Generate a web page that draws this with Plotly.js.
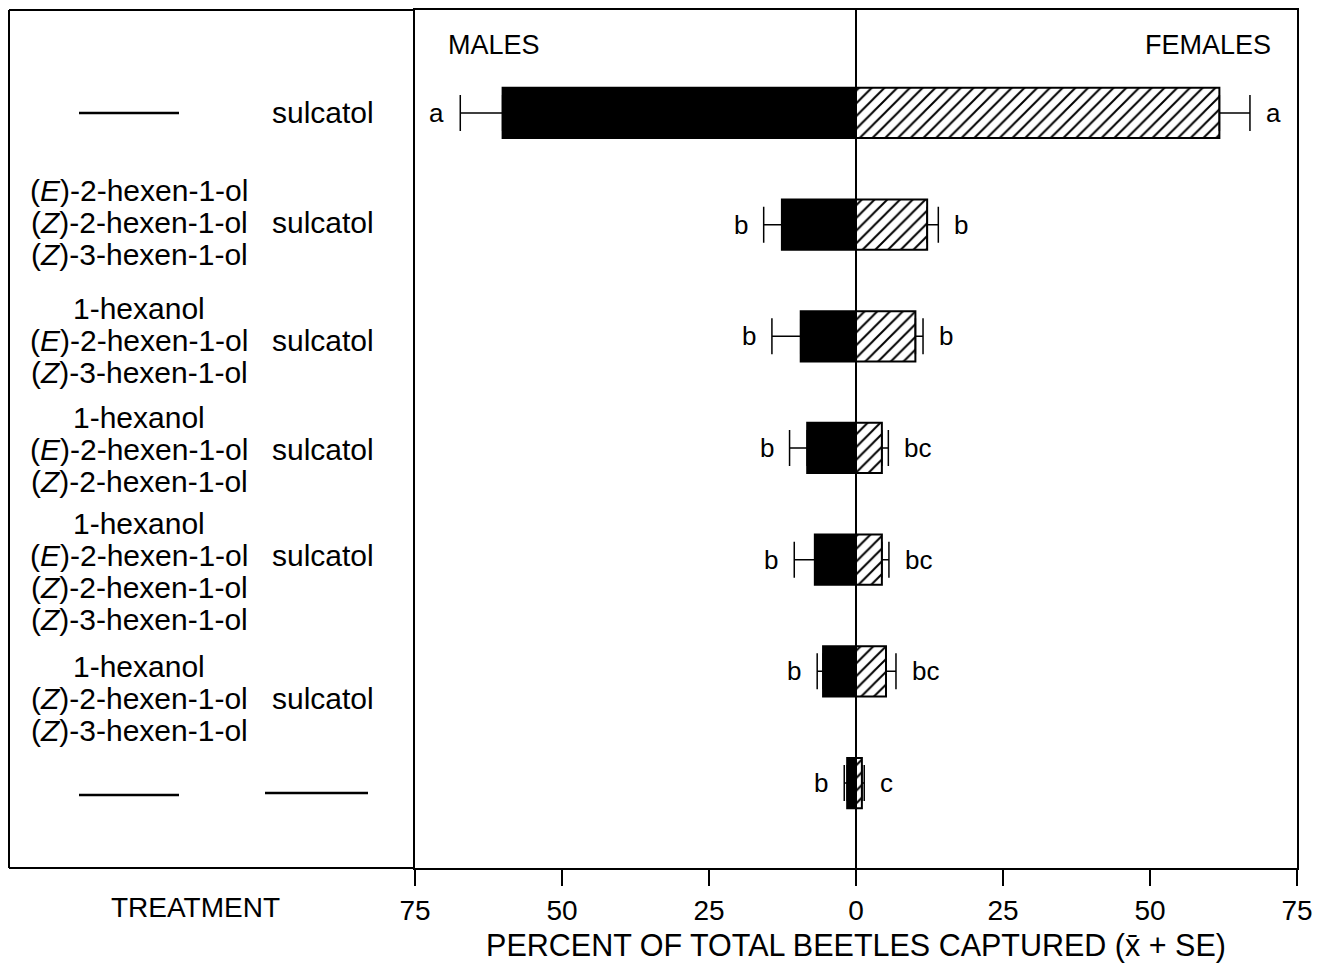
<!DOCTYPE html>
<html>
<head>
<meta charset="utf-8">
<script src="https://cdn.plot.ly/plotly-3.0.1.min.js"></script>
<style>html,body{margin:0;padding:0;background:#fff;}#chart{width:1317px;height:969px;}</style>
</head>
<body>
<div id="chart"></div>
<script>
// ---------------- data ----------------
const rows = [0, 1, 2, 3, 4, 5, 6];
const treatmentLines = [
  [],
  ["(<i>E</i>)-2-hexen-1-ol", "(<i>Z</i>)-2-hexen-1-ol", "(<i>Z</i>)-3-hexen-1-ol"],
  ["1-hexanol", "(<i>E</i>)-2-hexen-1-ol", "(<i>Z</i>)-3-hexen-1-ol"],
  ["1-hexanol", "(<i>E</i>)-2-hexen-1-ol", "(<i>Z</i>)-2-hexen-1-ol"],
  ["1-hexanol", "(<i>E</i>)-2-hexen-1-ol", "(<i>Z</i>)-2-hexen-1-ol", "(<i>Z</i>)-3-hexen-1-ol"],
  ["1-hexanol", "(<i>Z</i>)-2-hexen-1-ol", "(<i>Z</i>)-3-hexen-1-ol"],
  []
];
const pheromone = ["sulcatol", "sulcatol", "sulcatol", "sulcatol", "sulcatol", "sulcatol", ""];
const maleMeans   = [60.1, 12.6, 9.4, 8.3, 7.0, 5.6, 1.5];
const maleSE      = [7.2, 3.1, 4.9, 3.0, 3.5, 1.0, 0.5];
const femaleMeans = [61.8, 12.1, 10.1, 4.4, 4.4, 5.1, 1.0];
const femaleSE    = [5.2, 1.9, 1.3, 1.1, 1.2, 1.7, 0.4];
const maleLetters   = ["a", "b", "b", "b", "b", "b", "b"];
const femaleLetters = ["a", "b", "b", "bc", "bc", "bc", "c"];
const tickValues = [-75, -50, -25, 0, 25, 50, 75];
const tickLabels = ["75", "50", "25", "0", "25", "50", "75"];
const sexLabels = ["MALES", "FEMALES"];
const xTitle = "PERCENT OF TOTAL BEETLES CAPTURED (x\u0304 + SE)";
const yTitle = "TREATMENT";

// ---------------- layout helpers ----------------
const W = 1317, H = 969;
const ML = 415, MR = 20, MT = 10, MB = 101;
const PW = W - ML - MR, PH = H - MT - MB;
const xp = px => (px - ML) / PW;             // pixel x -> paper x
const yp = py => (H - MB - py) / PH;         // pixel y -> paper y
const ROWPX = 111.7;
const yRange = [6.761, -0.922];
const lineGap = 32;
const rowShift = [0, -2, 4, 2, 12, 27, 0];
const FONT = "Liberation Sans, Arial, Helvetica, sans-serif";
const NARROW = "Liberation Sans Narrow, Arial Narrow, Liberation Sans, sans-serif";

const traces = [
  {
    type: "bar", orientation: "h", name: "Males",
    y: rows, x: maleMeans.map(v => -v), width: 0.45,
    marker: {color: "#000", line: {color: "#000", width: 2}},
    error_x: {type: "data", symmetric: false, array: rows.map(() => 0), arrayminus: maleSE,
              color: "#000", thickness: 1.5, width: 18},
    hoverinfo: "skip"
  },
  {
    type: "bar", orientation: "h", name: "Females",
    y: rows, x: femaleMeans, width: 0.45,
    marker: {color: "#fff", line: {color: "#000", width: 2},
             pattern: {shape: "/", fgcolor: "#000", bgcolor: "#fff", size: 9, solidity: 0.22}},
    error_x: {type: "data", symmetric: false, array: femaleSE, arrayminus: rows.map(() => 0),
              color: "#000", thickness: 1.5, width: 18},
    hoverinfo: "skip"
  }
];

const annotations = [];
const shapes = [];

// significance letters
rows.forEach((r, i) => {
  annotations.push({x: -(maleMeans[i] + maleSE[i]), y: r, xref: "x", yref: "y", text: maleLetters[i],
    showarrow: false, xanchor: "right", yanchor: "middle", xshift: -14, font: {family: FONT, size: 26, color: "#000"}});
  annotations.push({x: femaleMeans[i] + femaleSE[i], y: r, xref: "x", yref: "y", text: femaleLetters[i],
    showarrow: false, xanchor: "left", yanchor: "middle", xshift: 14, font: {family: FONT, size: 26, color: "#000"}});
});

// sex labels
annotations.push({x: xp(446), y: yp(45), xref: "paper", yref: "paper", text: sexLabels[0], showarrow: false,
  xanchor: "left", yanchor: "middle", font: {family: FONT, size: 27, color: "#000"}});
annotations.push({x: xp(1273), y: yp(45), xref: "paper", yref: "paper", text: sexLabels[1], showarrow: false,
  xanchor: "right", yanchor: "middle", font: {family: FONT, size: 27, color: "#000"}});

// treatment labels
rows.forEach((r, i) => {
  const lines = treatmentLines[i];
  const n = lines.length;
  const lineY = k => rowShift[i] + (k - (n - 1) / 2) * lineGap;
  lines.forEach((t, k) => {
    annotations.push({x: xp(139), y: r, xref: "paper", yref: "y", text: t, showarrow: false,
      xanchor: "center", yanchor: "middle", yshift: -lineY(k), font: {family: FONT, size: 30, color: "#000"}});
  });
  if (pheromone[i]) {
    const off = n > 0 ? lineY(1) : 0;
    annotations.push({x: xp(270), y: r, xref: "paper", yref: "y", text: pheromone[i], showarrow: false,
      xanchor: "left", yanchor: "middle", yshift: -off, font: {family: FONT, size: 30, color: "#000"}});
  }
  if (n === 0) {
    const dy = i === 6 ? 12 / ROWPX : 0;
    shapes.push({type: "line", xref: "paper", yref: "y", x0: xp(79), x1: xp(179), y0: r + dy, y1: r + dy,
      line: {color: "#000", width: 2.5}});
    if (!pheromone[i]) {
      shapes.push({type: "line", xref: "paper", yref: "y", x0: xp(265), x1: xp(368), y0: r + dy - 2 / ROWPX, y1: r + dy - 2 / ROWPX,
        line: {color: "#000", width: 2.5}});
    }
  }
});

annotations.push({x: xp(195), y: yp(907), xref: "paper", yref: "paper", text: yTitle, showarrow: false,
  xanchor: "center", yanchor: "middle", font: {family: FONT, size: 28, color: "#000"}});

// left panel frame
const lx = xp(9);
shapes.push({type: "line", xref: "paper", yref: "paper", x0: lx, x1: 0, y0: 1, y1: 1, line: {color: "#000", width: 2}});
shapes.push({type: "line", xref: "paper", yref: "paper", x0: lx, x1: 0, y0: 0, y1: 0, line: {color: "#000", width: 2}});
shapes.push({type: "line", xref: "paper", yref: "paper", x0: lx, x1: lx, y0: 0, y1: 1, line: {color: "#000", width: 2}});

const layout = {
  width: W, height: H,
  margin: {l: ML, r: MR, t: MT, b: MB, pad: 0},
  paper_bgcolor: "#fff", plot_bgcolor: "#fff",
  showlegend: false,
  barmode: "overlay",
  xaxis: {
    range: [-75, 75], tickmode: "array", tickvals: tickValues, ticktext: tickLabels,
    ticks: "outside", ticklen: 16, tickwidth: 1.5, tickcolor: "#000",
    showline: true, linecolor: "#000", linewidth: 2, mirror: true,
    showgrid: false, zeroline: true, zerolinecolor: "#000", zerolinewidth: 1.5,
    tickfont: {family: NARROW, size: 28, color: "#000"},
    title: {text: xTitle, font: {family: NARROW, size: 30.5, color: "#000"}, standoff: 10},
    fixedrange: true
  },
  yaxis: {
    range: yRange, showticklabels: false, ticks: "", showgrid: false, zeroline: false,
    showline: true, linecolor: "#000", linewidth: 2, mirror: true, fixedrange: true
  },
  annotations: annotations,
  shapes: shapes
};

Plotly.newPlot("chart", traces, layout, {displayModeBar: false, staticPlot: true});
</script>
</body>
</html>
